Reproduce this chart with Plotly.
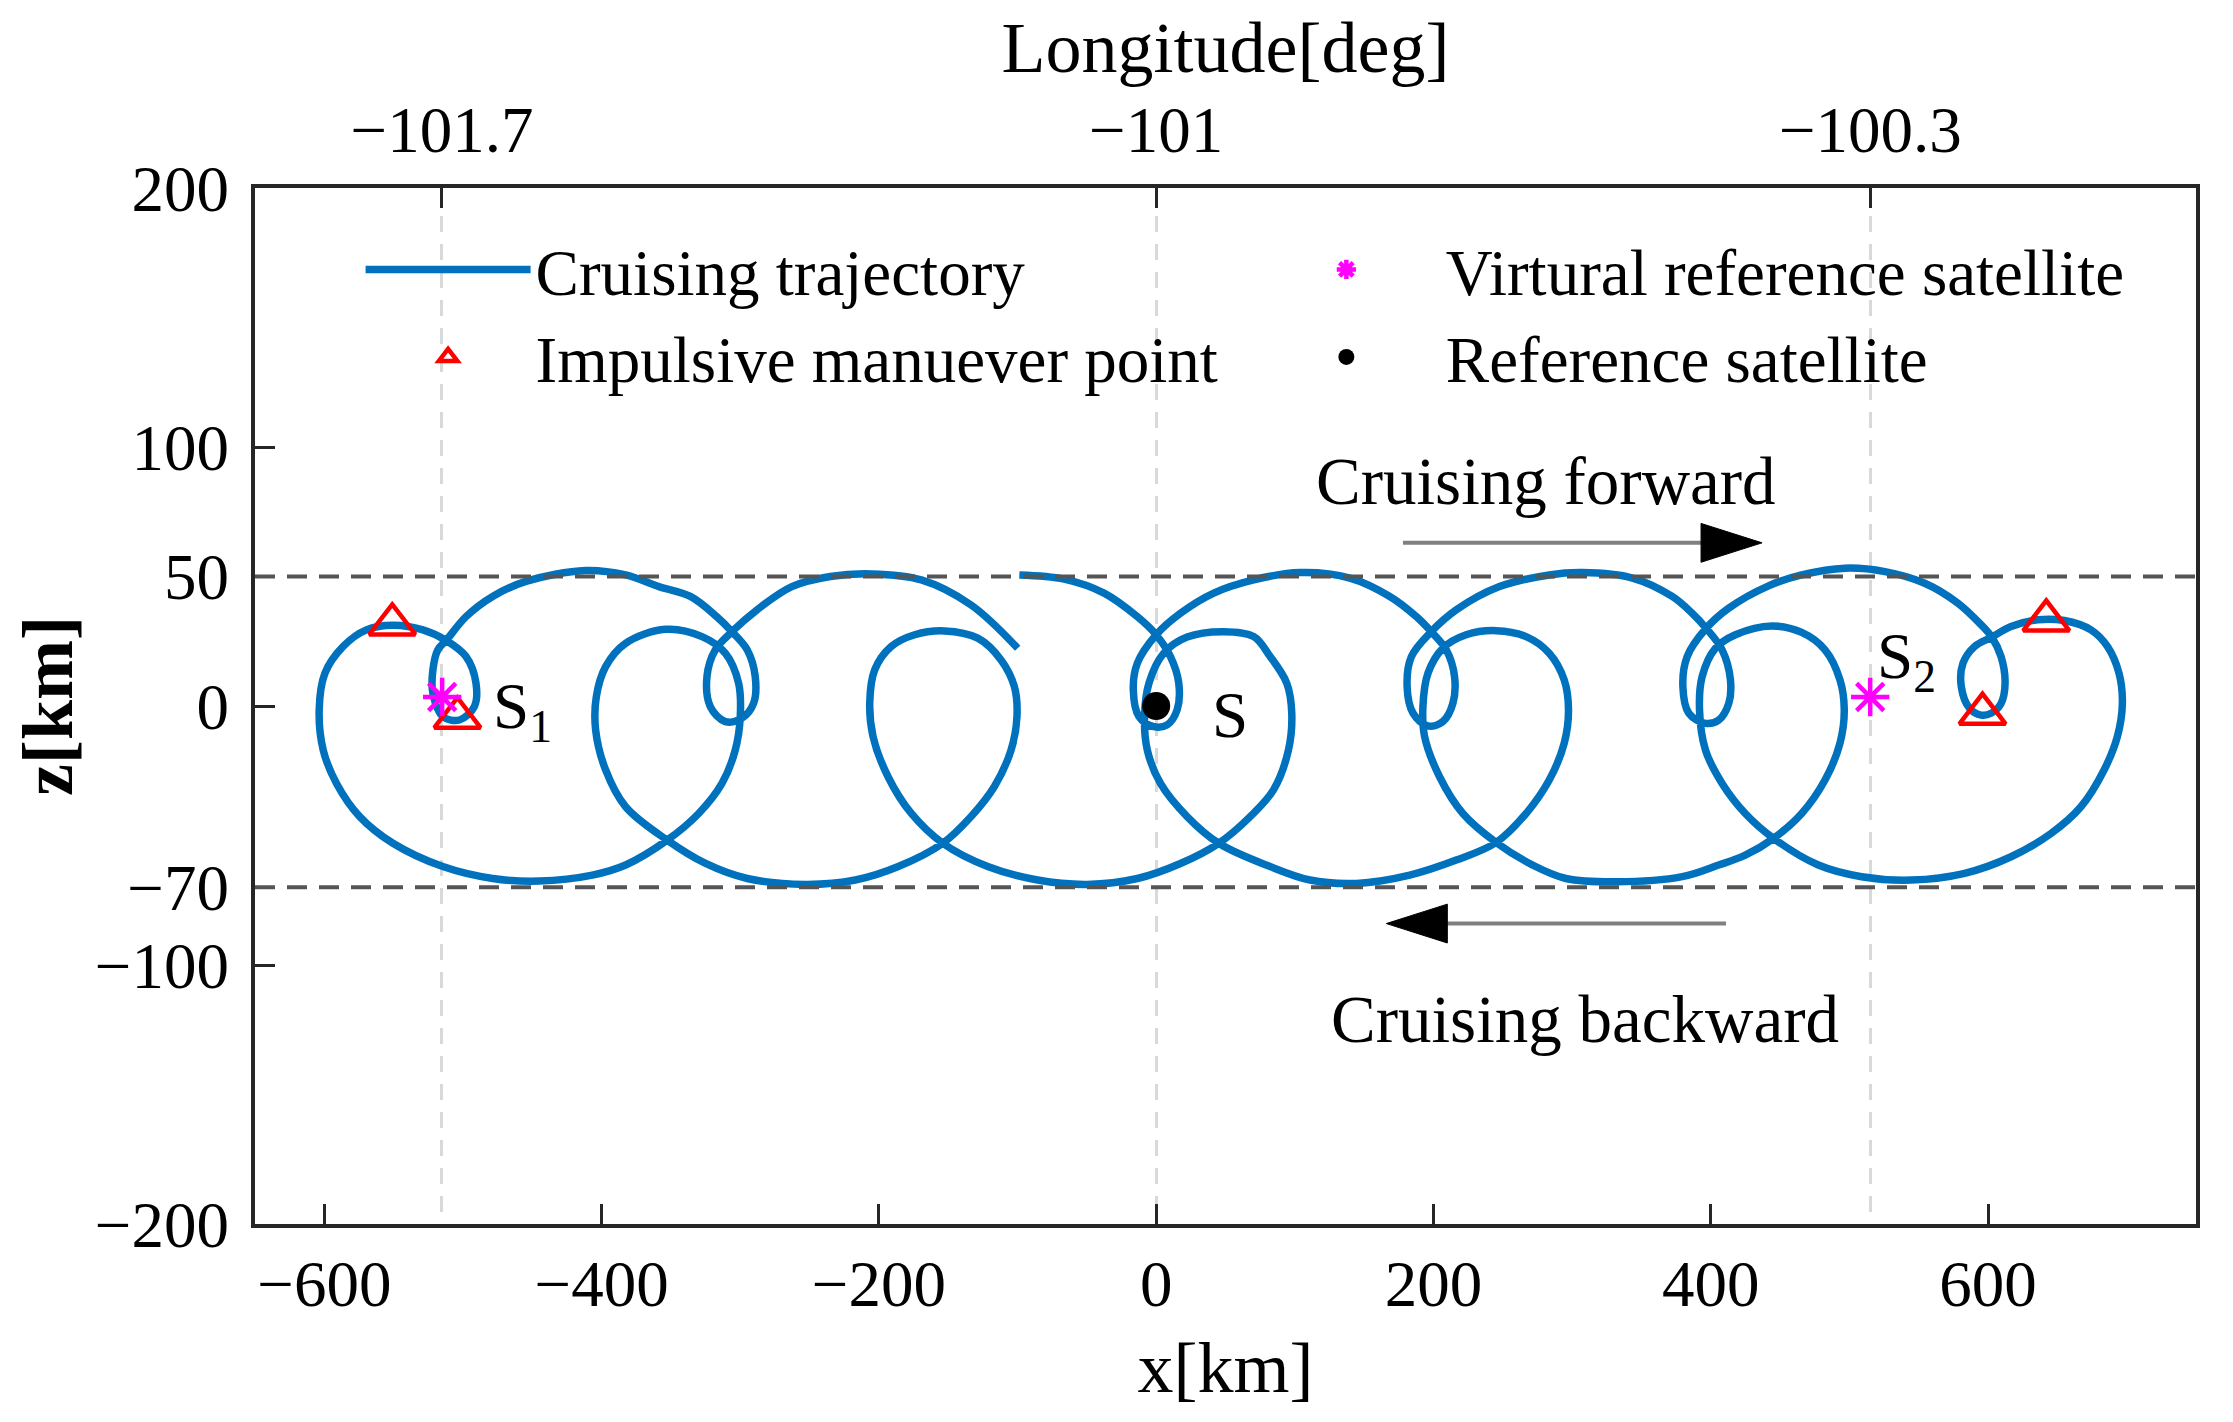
import plotly.graph_objects as go
import math

# ---------------- data ----------------
traj_x = [
    -98.7, -66.4, -37.6, -13.6, 0.0, 10.3, 16.3, 15.1, 7.9, -1.7, -12.4, -16.5, -13.6, 0.0,
    17.5, 41.5, 70.3, 103.8, 139.7, 168.5, 187.7, 198.4, 209.2, 215.2, 214.0, 206.8, 196.0,
    185.3, 181.0, 184.1, 198.4, 216.4, 247.6, 283.5, 307.5, 343.5, 372.2, 386.6, 396.7, 408.2,
    414.2, 413.0, 405.8, 396.2, 384.2, 379.9, 383.0, 396.7, 413.0, 441.7, 465.6, 496.8, 525.6,
    554.3, 578.3, 595.1, 602.7, 609.4, 612.3, 609.4, 602.2, 595.0, 586.7, 580.7, 581.9, 590.3,
    602.7, 616.6, 635.8, 655.0, 674.2, 686.1, 694.5, 696.9, 693.3, 683.7, 667.0, 645.4, 616.6,
    583.1, 544.7, 508.8, 477.6, 445.3, 424.9, 408.2, 396.2, 391.9, 393.8, 403.4, 417.8, 444.1,
    465.6, 482.4, 493.2, 496.3, 493.2, 482.4, 465.6, 445.3, 424.9, 405.7, 379.4, 331.5, 295.5,
    271.5, 245.2, 221.2, 204.4, 193.6, 192.4, 196.0, 206.8, 223.6, 245.2, 266.8, 283.5, 294.3,
    297.4, 294.3, 283.5, 266.8, 245.2, 216.4, 182.9, 144.5, 110.9, 82.2, 45.1, 22.3, 3.1, -6.4,
    -8.4, -5.2, 5.5, 22.3, 48.7, 70.3, 82.2, 94.2, 97.8, 95.4, 84.6, 67.8, 45.1, 17.5, -13.6,
    -49.6, -85.5, -121.5, -153.9, -176.6, -193.4, -204.2, -206.6, -203.0, -191.0, -174.2,
    -152.7, -128.7, -111.9, -102.3, -100.4, -104.7, -116.7, -133.5, -153.9, -186.0, -217.0,
    -253.0, -295.0, -325.0, -352.7, -382.7, -397.1, -404.3, -403.8, -397.1, -382.7, -353.9,
    -327.6, -310.8, -301.2, -300.0, -303.6, -313.2, -330.0, -352.7, -382.7, -406.7, -445.0,
    -478.6, -514.5, -550.5, -574.5, -591.2, -600.8, -603.7, -599.6, -586.4, -569.7, -550.5,
    -528.9, -512.1, -497.8, -490.6, -491.8, -502.5, -514.5, -521.7, -521.7, -518.1, -512.1,
    -497.8, -478.6, -454.6, -411.5, -382.7, -358.7, -336.0, -317.0, -306.0, -295.0, -289.2,
    -290.4, -298.8, -310.8, -321.6, -324.0, -318.0, -306.0, -288.0, -262.8, -235.0, -205.4,
    -169.4, -133.5, -99.9,
]
traj_z = [
    50.6, 49.0, 43.6, 34.5, 27.5, 19.1, 8.8, -1.5, -7.3, -8.0, -4.1, 6.2, 16.5, 27.5,
    35.8, 43.6, 48.7, 51.5, 49.4, 42.3, 34.5, 28.7, 21.7, 11.4, 1.0, -6.0, -7.7,
    -2.8, 7.5, 19.1, 28.7, 37.1, 46.1, 50.6, 51.5, 49.4, 42.3, 35.8, 30.0, 21.7,
    10.1, 1.0, -5.4, -6.7, -2.8, 7.5, 19.1, 30.0, 37.8, 46.4, 50.6, 53.2, 51.9,
    47.4, 39.7, 31.3, 26.6, 19.1, 8.8, 1.0, -2.8, -3.5, -0.9, 7.5, 16.5, 23.0,
    26.6, 30.7, 33.3, 33.0, 29.4, 23.0, 12.6, 1.0, -11.8, -24.7, -38.9, -49.2, -58.2,
    -64.6, -67.2, -65.9, -61.4, -51.1, -41.5, -29.9, -17.0, -1.5, 11.4, 22.3, 27.5, 30.9,
    28.4, 21.7, 10.1, -1.5, -14.4, -28.6, -41.5, -51.1, -57.6, -61.4, -65.9, -67.9, -66.6,
    -61.4, -52.7, -41.5, -27.3, -11.8, -0.2, 12.6, 22.3, 27.5, 29.1, 26.8, 20.4, 10.1,
    -1.5, -14.4, -28.6, -41.5, -52.7, -59.5, -65.3, -68.5, -67.2, -62.0, -53.0, -42.7, -29.9, -17.0,
    -4.1, 8.8, 20.4, 26.6, 28.7, 26.8, 19.1, 8.8, -2.8, -17.0, -32.4, -42.7, -53.0, -60.8, -66.6,
    -68.9, -67.2, -62.0, -53.0, -41.5, -27.3, -11.8, 1.1, 14.0, 23.0, 27.5,
    29.0, 26.2, 17.8, 7.5, -4.1, -17.0, -31.1, -42.7, -53.0, -62.0, -67.2,
    -68.9, -66.6, -60.8, -51.8, -38.9, -24.7, -9.3, 3.6, 15.2, 24.2, 29.6,
    26.8, 20.4, 8.8, -4.1, -17.0, -29.9, -41.5, -51.8, -61.4, -65.3, -67.6,
    -66.6, -62.0, -53.0, -42.7, -29.9, -17.0, -1.5, 12.6, 23.0, 29.4, 31.2,
    29.4, 25.3, 19.1, 8.8, -0.2, -5.4, -4.1, 4.9, 13.9, 21.7, 25.3,
    34.5, 42.3, 48.1, 52.3, 50.6, 46.1, 42.3, 34.5, 28.7, 21.7, 11.4,
    1.0, -4.7, -6.0, -0.2, 11.4, 21.7, 28.7, 37.1, 46.1, 50.0, 51.0,
    48.7, 39.0, 22.3,
]

impulse_x = [-551.0, -504.0, 596.0, 642.0]
impulse_z = [31.5, -4.5, -3.0, 33.0]

virtual_x = [-515.0, 515.0]
virtual_z = [3.5, 3.5]
virtual_labels = ["S<sub>1</sub>", "S<sub>2</sub>"]

ref_x = [0.0]
ref_z = [0.0]
ref_labels = ["S"]

bound_z = [50, -70]

x_ticks = [-600, -400, -200, 0, 200, 400, 600]
z_ticks = [200, 100, 50, 0, -70, -100, -200]
lon_ticks = [-101.7, -101.0, -100.3]
lon_tick_labels = ["\u2212101.7", "\u2212101", "\u2212100.3"]
lon_center = -101.0

arrow_texts = ["Cruising forward", "Cruising backward"]
arrow_tail_x = [178.0, 411.0]
arrow_tip_x = [437.0, 166.0]
arrow_z = [63.0, -84.0]
arrow_text_x = [281.0, 309.0]
arrow_text_z = [87.0, -121.0]

# ---------------- styling ----------------
FONT = "Liberation Serif"
AX = "#262626"
BLUE = "#0072BD"
X_RANGE = [-650, 750]
Z_RANGE = [-200, 200]
KM_PER_DEG = 42164.0 * math.pi / 180.0

fig = go.Figure()

fig.add_trace(go.Scatter(
    x=traj_x, y=traj_z, mode="lines", name="Cruising trajectory",
    line=dict(color=BLUE, width=7.5, shape="spline", smoothing=1.0),
    legend="legend", hoverinfo="skip"))

fig.add_trace(go.Scatter(
    x=impulse_x, y=impulse_z, mode="markers", name="Impulsive manuever point",
    marker=dict(symbol="triangle-up-open", size=40, color="red",
                line=dict(color="red", width=4.5)),
    legend="legend", hoverinfo="skip"))

fig.add_trace(go.Scatter(
    x=virtual_x, y=virtual_z, mode="markers", name="Virtural reference satellite",
    marker=dict(symbol="asterisk-open", size=32, color="magenta",
                line=dict(color="magenta", width=4.5)),
    legend="legend2", hoverinfo="skip"))

fig.add_trace(go.Scatter(
    x=ref_x, y=ref_z, mode="markers", name="Reference satellite",
    marker=dict(symbol="circle", size=28, color="black"),
    legend="legend2", hoverinfo="skip"))

# invisible trace that carries the top longitude axis
fig.add_trace(go.Scatter(
    x=lon_ticks, y=[0] * len(lon_ticks), xaxis="x2", yaxis="y", mode="markers",
    marker=dict(opacity=0), showlegend=False, hoverinfo="skip"))

shapes = []
for zb in bound_z:
    shapes.append(dict(type="line", xref="paper", x0=0, x1=1, yref="y", y0=zb, y1=zb,
                       line=dict(color="#555555", width=4, dash="20px,12px"), layer="above"))

annotations = []
for tx, tp, az, txt, lx, lz in zip(arrow_tail_x, arrow_tip_x, arrow_z, arrow_texts,
                                    arrow_text_x, arrow_text_z):
    d = 1 if tp > tx else -1
    head_len = 44.0
    half_h = 7.5
    base = tp - d * head_len
    shapes.append(dict(type="line", xref="x", yref="y", x0=tx, x1=base, y0=az, y1=az,
                       line=dict(color="#808080", width=4), layer="above"))
    shapes.append(dict(type="path", xref="x", yref="y",
                       path=f"M {tp},{az} L {base},{az + half_h} L {base},{az - half_h} Z",
                       fillcolor="black", line=dict(color="black", width=1), layer="above"))
    annotations.append(dict(x=lx, y=lz, xref="x", yref="y", text=txt, showarrow=False,
                            font=dict(family=FONT, size=67, color="black"),
                            xanchor="center", yanchor="middle"))

label_dx = [58.0, 26.0]
label_dz = [-5.5, 14.0]
for vx, vz, lab, dx, dz in zip(virtual_x, virtual_z, virtual_labels, label_dx, label_dz):
    annotations.append(dict(x=vx + dx, y=vz + dz, xref="x", yref="y", text=lab,
                            showarrow=False, font=dict(family=FONT, size=65, color="black"),
                            xanchor="center", yanchor="middle"))
for rx, rz, lab in zip(ref_x, ref_z, ref_labels):
    annotations.append(dict(x=rx + 53, y=rz - 3.5, xref="x", yref="y", text=lab,
                            showarrow=False, font=dict(family=FONT, size=65, color="black"),
                            xanchor="center", yanchor="middle"))

tickfont = dict(family=FONT, size=65, color="black")
titlefont = dict(family=FONT, size=72, color="black")

fig.update_layout(
    width=2225, height=1414,
    paper_bgcolor="white", plot_bgcolor="white",
    margin=dict(l=247, r=37, t=180, b=198),
    font=dict(family=FONT, color="black"),
    showlegend=True,
    xaxis=dict(range=X_RANGE, tickmode="array", tickvals=x_ticks, ticks="inside",
               ticklen=20, tickwidth=3, tickcolor=AX, showline=True, linecolor=AX,
               linewidth=4, mirror=True, showgrid=False, zeroline=False,
               tickfont=tickfont, ticklabelstandoff=0,
               title=dict(text="x[km]", font=titlefont, standoff=24)),
    xaxis2=dict(overlaying="x", side="top",
                range=[lon_center + X_RANGE[0] / KM_PER_DEG, lon_center + X_RANGE[1] / KM_PER_DEG],
                tickmode="array", tickvals=lon_ticks, ticktext=lon_tick_labels,
                ticks="inside", ticklen=20, tickwidth=3, tickcolor=AX,
                showline=False, showgrid=True, gridcolor="#d9d9d9", gridwidth=3,
                griddash="16px,12px", zeroline=False, tickfont=tickfont,
                ticklabelstandoff=22,
                title=dict(text="Longitude[deg]", font=titlefont, standoff=5)),
    yaxis=dict(range=Z_RANGE, tickmode="array", tickvals=z_ticks, ticks="inside",
               ticklen=20, tickwidth=3, tickcolor=AX, showline=True, linecolor=AX,
               linewidth=4, mirror=True, showgrid=False, zeroline=False,
               tickfont=tickfont, ticklabelstandoff=9,
               title=dict(text="z[km]", font=dict(family=FONT, size=72, color="black",
                                                  weight="bold"), standoff=15)),
    legend=dict(x=0.0544, y=0.9685, xanchor="left", yanchor="top", orientation="v",
                font=dict(family=FONT, size=65, color="black"), itemwidth=165,
                bgcolor="rgba(0,0,0,0)", borderwidth=0, tracegroupgap=0),
    legend2=dict(x=0.5110, y=0.9685, xanchor="left", yanchor="top", orientation="v",
                 font=dict(family=FONT, size=65, color="black"), itemwidth=189,
                 bgcolor="rgba(0,0,0,0)", borderwidth=0, tracegroupgap=0),
    shapes=shapes,
    annotations=annotations,
)

fig.write_html("out.html")
